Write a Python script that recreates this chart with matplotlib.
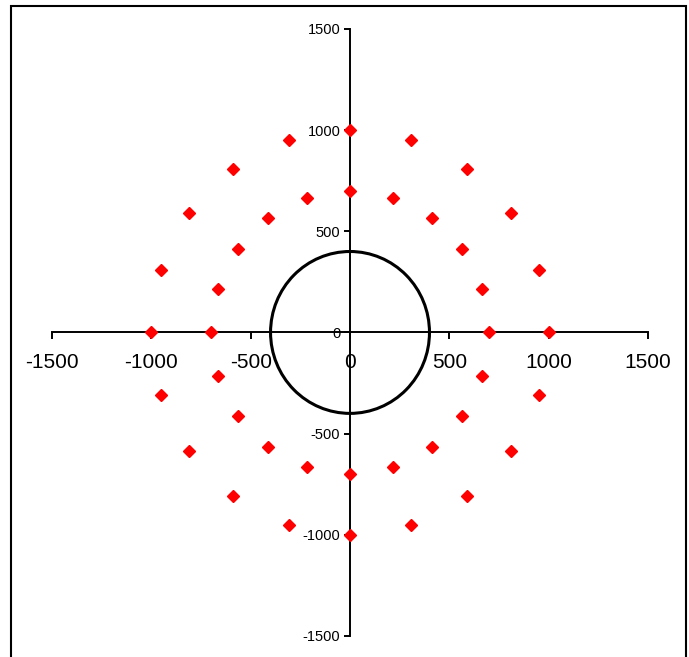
import matplotlib
matplotlib.use("Agg")
import matplotlib.pyplot as plt
from matplotlib.patches import Circle, Rectangle

# points
outer_x = [1000, 951, 809, 588, 309, 0, -309, -588, -809, -951,
           -1000, -951, -809, -588, -309, 0, 309, 588, 809, 951]
outer_y = [0, 309, 588, 809, 951, 1000, 951, 809, 588, 309,
           0, -309, -588, -809, -951, -1000, -951, -809, -588, -309]
inner_x = [700, 666, 566, 411, 216, 0, -216, -411, -566, -666,
           -700, -666, -566, -411, -216, 0, 216, 411, 566, 666]
inner_y = [0, 216, 411, 566, 666, 700, 666, 566, 411, 216,
           0, -216, -411, -566, -666, -700, -666, -566, -411, -216]
circle_radius = 400
ticks = [-1500, -1000, -500, 0, 500, 1000, 1500]

plt.rcParams['font.family'] = ['Liberation Sans', 'DejaVu Sans']
plt.rcParams['axes.unicode_minus'] = False

fig = plt.figure(figsize=(6.89, 6.57), dpi=100)
ax = fig.add_axes([0.0755, 0.032, 0.865, 0.924])

ax.add_patch(Circle((0, 0), circle_radius, fill=False, color='black', lw=2.2, zorder=2))
ax.plot(outer_x, outer_y, 'D', color='#ff0000', markersize=6.5, zorder=3, clip_on=False)
ax.plot(inner_x, inner_y, 'D', color='#ff0000', markersize=6.5, zorder=3, clip_on=False)

ax.set_xlim(-1500, 1500)
ax.set_ylim(-1500, 1500)
for side in ['top', 'right']:
    ax.spines[side].set_visible(False)
ax.spines['left'].set_position(('data', 0))
ax.spines['bottom'].set_position(('data', 0))
ax.spines['left'].set_linewidth(1.4)
ax.spines['bottom'].set_linewidth(1.4)

ax.set_xticks(ticks)
ax.set_yticks(ticks)
ax.tick_params(axis='x', direction='out', length=5, width=1.4, labelsize=15, pad=10)
ax.tick_params(axis='y', direction='out', length=4, width=1.4, labelsize=10.5, pad=3)
ax.patch.set_visible(False)

# chart border
fig.patches.append(Rectangle((11 / 689, -0.05), 674.5 / 689, 1 - 6 / 657 + 0.05,
                             transform=fig.transFigure, fill=False,
                             edgecolor='black', lw=1.5))

fig.savefig('out.png', dpi=100)
